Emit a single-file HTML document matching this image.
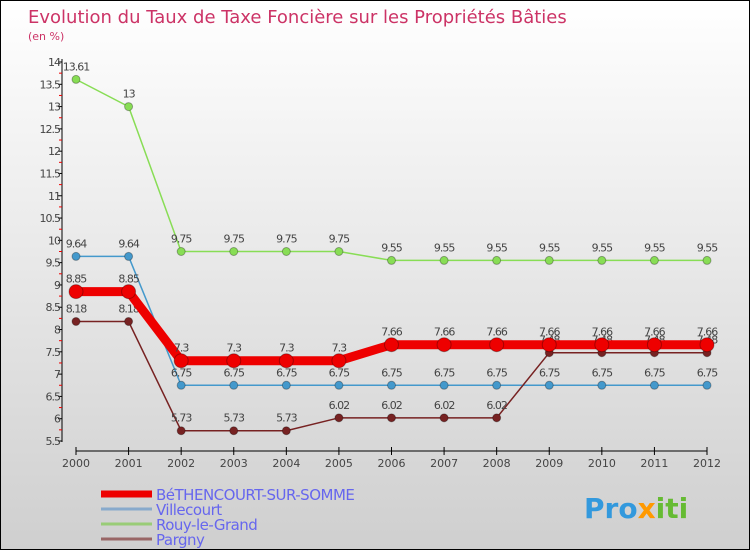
<!DOCTYPE html>
<html><head><meta charset="utf-8"><style>
body{margin:0;}
#c{width:750px;height:550px;position:relative;overflow:hidden;background:linear-gradient(#ffffff,#cfcfcf);font-family:"DejaVu Sans","Liberation Sans",sans-serif;border:1px solid #000;box-sizing:border-box;}
</style></head><body>
<div id="c">
<svg id="s" width="750" height="550" xmlns="http://www.w3.org/2000/svg">
<text x="27" y="22" font-size="18" fill="#cc3366">Evolution du Taux de Taxe Foncière sur les Propriétés Bâties</text>
<text x="27" y="39" font-size="11" fill="#cc3366">(en %)</text>
<g id="axes"></g><g id="series"></g><g id="legend"></g>
<text x="583" y="517" font-size="28" font-weight="bold" fill="#3399dd">Pro<tspan fill="#ff9900">x</tspan><tspan fill="#66bb33">iti</tspan></text>
</svg>
</div>
<script>
const years=["2000","2001","2002","2003","2004","2005","2006","2007","2008","2009","2010","2011","2012"];
const bethencourt=[8.85,8.85,7.3,7.3,7.3,7.3,7.66,7.66,7.66,7.66,7.66,7.66,7.66];
const villecourt=[9.64,9.64,6.75,6.75,6.75,6.75,6.75,6.75,6.75,6.75,6.75,6.75,6.75];
const rouy=[13.61,13,9.75,9.75,9.75,9.75,9.55,9.55,9.55,9.55,9.55,9.55,9.55];
const pargny=[8.18,8.18,5.73,5.73,5.73,6.02,6.02,6.02,6.02,7.48,7.48,7.48,7.48];
const yTicks=[5.5,6,6.5,7,7.5,8,8.5,9,9.5,10,10.5,11,11.5,12,12.5,13,13.5,14];
const NS="http://www.w3.org/2000/svg";
const x=i=>75+i*(706-75)/12;
const y=v=>440-(v-5.5)*(440-61)/8.5;
function mk(tag,attrs,parent,text){const e=document.createElementNS(NS,tag);for(const k in attrs)e.setAttribute(k,attrs[k]);if(text!==undefined)e.textContent=text;parent.appendChild(e);return e;}
const ax=document.getElementById('axes');
let e=mk('line',{x1:61,y1:58,x2:61,y2:441,stroke:'#000'},ax);


e=mk('line',{x1:75,y1:450,x2:706,y2:450,stroke:'#000'},ax);


yTicks.forEach(v=>{
  mk('line',{x1:57,y1:y(v),x2:61,y2:y(v),stroke:'#000'},ax);
  if(v<14)mk('line',{x1:58,y1:y(v+0.25),x2:61,y2:y(v+0.25),stroke:'#e00'},ax);
  e=mk('text',{x:59,y:y(v)+4,'font-size':11,'text-anchor':'end',fill:'#444','letter-spacing':'-1'},ax,String(v));
  
  
});
years.forEach((yr,i)=>{
  mk('line',{x1:x(i),y1:446,x2:x(i),y2:454,stroke:'#000'},ax);
  e=mk('text',{x:x(i),y:466,'font-size':11,'text-anchor':'middle',fill:'#444'},ax,yr);
  
  
});
const sg=document.getElementById('series');
function series(data,color,w,r,name,labelColor){
  const g=mk('g',{},sg);
  
  
  const l=mk('polyline',{points:data.map((v,i)=>x(i)+','+y(v)).join(' '),fill:'none',stroke:color,'stroke-width':w},g);
  
  
  data.forEach((v,i)=>{
    const c=mk('circle',{cx:x(i),cy:y(v),r:r,fill:color,stroke:'rgba(0,0,0,0.3)','stroke-width':1},g);
    
    
    const t=mk('text',{x:x(i),y:y(v)-9,'font-size':11,'text-anchor':'middle',fill:'#444','letter-spacing':'-1'},g,String(v));
    
    
  });
}
series(rouy,'#88dd55',1.5,4,'rouy-le-grand');
series(villecourt,'#4499cc',1.5,4,'villecourt');
series(pargny,'#772222',1.5,4,'pargny');
series(bethencourt,'#ee0000',9,7,'bethencourt-sur-somme');
const lg=document.getElementById('legend');
const leg=[["BéTHENCOURT-SUR-SOMME","#ee0000",7],["Villecourt","#88aacc",3],["Rouy-le-Grand","#99cc77",3],["Pargny","#996666",3]];
leg.forEach((d,i)=>{
  const yy=493+i*15;
  const g=mk('g',{},lg);
  
  
  mk('line',{x1:100,y1:yy,x2:151,y2:yy,stroke:d[1],'stroke-width':d[2]},g);
  mk('text',{x:155,y:yy+6,'font-size':15,fill:'#6666ee','letter-spacing':'-0.5'},g,d[0]);
});
</script>
</body></html>
